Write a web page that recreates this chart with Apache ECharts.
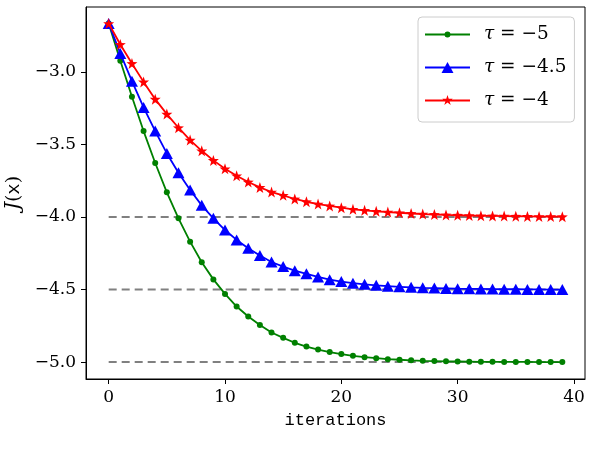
<!DOCTYPE html>
<html>
<head>
<meta charset="utf-8">
<script src="https://cdn.jsdelivr.net/npm/echarts@6/dist/echarts.min.js"></script>
<style>
  html, body { margin: 0; padding: 0; background: #fff; }
  #chart { width: 593px; height: 462px; }
</style>
</head>
<body>
<div id="chart"></div>
<script>
// 数据：每条曲线的目标函数值（按迭代次数 0..39）
var tauLabels = ['−5', '−4.5', '−4'];
var tauLevels = [-5, -4.5, -4];
var greenVals = [-2.667, -2.924, -3.172, -3.408, -3.628, -3.830, -4.009, -4.170, -4.312, -4.430,
  -4.530, -4.617, -4.686, -4.745, -4.796, -4.833, -4.867, -4.893, -4.914, -4.931,
  -4.945, -4.957, -4.966, -4.973, -4.980, -4.984, -4.988, -4.991, -4.993, -4.995,
  -4.996, -4.997, -4.998, -4.998, -4.999, -4.999, -4.999, -5.000, -5.000, -5.000];
var blueVals = [-2.667, -2.873, -3.064, -3.245, -3.408, -3.562, -3.695, -3.814, -3.920, -4.009,
  -4.090, -4.158, -4.215, -4.266, -4.310, -4.342, -4.370, -4.392, -4.413, -4.432,
  -4.445, -4.456, -4.464, -4.471, -4.477, -4.481, -4.485, -4.488, -4.490, -4.492,
  -4.494, -4.495, -4.496, -4.497, -4.498, -4.498, -4.499, -4.499, -4.500, -4.500];
var redVals = [-2.667, -2.811, -2.942, -3.069, -3.188, -3.291, -3.385, -3.470, -3.544, -3.610,
  -3.668, -3.716, -3.759, -3.796, -3.828, -3.851, -3.876, -3.895, -3.911, -3.924,
  -3.936, -3.947, -3.954, -3.961, -3.966, -3.971, -3.976, -3.980, -3.983, -3.986,
  -3.988, -3.990, -3.992, -3.993, -3.994, -3.995, -3.996, -3.997, -3.997, -3.998];
var xTicks = [0, 10, 20, 30, 40];
var yTicks = [-5, -4.5, -4, -3.5, -3];
var lastIter = 39;

(function () {
  var myChart = echarts.init(document.getElementById('chart'));
  var serif = 'DejaVu Serif';
  var star = 'path://M0,-10 L2.35,-3.24 L9.51,-3.09 L3.8,1.24 L5.88,8.09 L0,4 L-5.88,8.09 L-3.8,1.24 L-9.51,-3.09 L-2.35,-3.24 Z';

  // 图例图标：线段 + 小标记（45x12 的框）
  var box = 'M0,0 L0,0 M45,12 L45,12 ';
  var lineRect = 'M0,4.9 L45,4.9 L45,7.1 L0,7.1 Z ';
  var legendIcons = [
    'path://' + box + lineRect + 'M19.5,6 A3,3 0 1,1 25.5,6 A3,3 0 1,1 19.5,6 Z',
    'path://' + box + lineRect + 'M22.5,0.5 L28.5,11.5 L16.5,11.5 Z',
    'path://' + box + lineRect + 'M22.5,0.5 L23.73,4.3 L27.73,4.3 L24.5,6.65 L25.73,10.45 L22.5,8.1 L19.27,10.45 L20.5,6.65 L17.27,4.3 L21.27,4.3 Z'
  ];

  function pts(vals) {
    return vals.map(function (v, i) { return [i, v]; });
  }

  var names = tauLabels.map(function (t) { return 'τ = ' + t; });

  // 灰色虚线：收敛目标
  var dashed = tauLevels.map(function (lv) {
    return {
      type: 'line',
      name: 'ref' + lv,
      data: [[0, lv], [lastIter, lv]],
      symbol: 'none',
      silent: true,
      z: 1,
      lineStyle: { color: '#808080', width: 2, type: [8, 5] }
    };
  });

  var option = {
    animation: false,
    grid: {
      left: 86, right: 8, top: 7, bottom: 83,
      outerBoundsMode: 'none',
      show: true, borderColor: '#000', borderWidth: 1, backgroundColor: '#fff'
    },
    legend: {
      data: names.map(function (n, i) { return { name: n, icon: legendIcons[i] }; }),
      orient: 'vertical',
      left: 418, top: 17,
      padding: [8, 8, 12, 7],
      itemGap: 14,
      itemWidth: 45, itemHeight: 12,
      borderColor: '#cccccc', borderWidth: 1, borderRadius: 4,
      backgroundColor: 'rgba(255,255,255,0.8)',
      formatter: function (n) {
        var p = n.split(' = ');
        return '{t|τ}{r| = ' + p[1] + '}';
      },
      textStyle: {
        rich: {
          t: { fontFamily: serif, fontStyle: 'italic', fontSize: 18.5, color: '#000', lineHeight: 16, padding: [0, 0, 0, 9] },
          r: { fontFamily: serif, fontSize: 18.5, color: '#000', lineHeight: 16 }
        }
      }
    },
    xAxis: {
      type: 'value',
      min: -1.95, max: 40.95,
      name: 'iterations',
      nameLocation: 'middle',
      nameGap: 33,
      nameTextStyle: { fontFamily: 'Liberation Mono', fontSize: 17, color: '#000' },
      axisLine: { show: true, onZero: false, lineStyle: { color: '#000', width: 1 } },
      axisTick: { show: true, length: 5, customValues: xTicks, lineStyle: { color: '#000' } },
      axisLabel: { customValues: xTicks, fontFamily: serif, fontSize: 17, color: '#000', margin: 10 },
      splitLine: { show: false }
    },
    yAxis: {
      type: 'value',
      min: -5.1165, max: -2.553,
      name: '{j|J}{p|(}{x|x}{p|)}',
      nameLocation: 'middle',
      nameGap: 60,
      nameRotate: 90,
      nameTextStyle: {
        rich: {
          j: { fontFamily: serif, fontStyle: 'italic', fontSize: 20, color: '#000' },
          p: { fontFamily: serif, fontSize: 19, color: '#000' },
          x: { fontFamily: 'Liberation Mono', fontSize: 19, color: '#000' }
        }
      },
      axisLine: { show: true, onZero: false, lineStyle: { color: '#000', width: 1 } },
      axisTick: { show: true, length: 5, customValues: yTicks, lineStyle: { color: '#000' } },
      axisLabel: {
        customValues: yTicks, fontFamily: serif, fontSize: 17, color: '#000', margin: 10,
        formatter: function (v) { return v.toFixed(1).replace('-', '−'); }
      },
      splitLine: { show: false }
    },
    series: dashed.concat([
      {
        type: 'line', name: names[0], data: pts(greenVals), z: 3,
        color: '#008000',
        symbol: 'circle', symbolSize: 6,
        lineStyle: { width: 1.8 }
      },
      {
        type: 'line', name: names[1], data: pts(blueVals), z: 4,
        color: '#0000ff',
        symbol: 'triangle', symbolSize: [12, 11],
        lineStyle: { width: 1.8 }
      },
      {
        type: 'line', name: names[2], data: pts(redVals), z: 5,
        color: '#ff0000',
        symbol: star, symbolSize: 11,
        lineStyle: { width: 1.8 }
      }
    ])
  };

  myChart.setOption(option);
  window.addEventListener('resize', function () {
    myChart.resize();
  });
})();
</script>
</body>
</html>
